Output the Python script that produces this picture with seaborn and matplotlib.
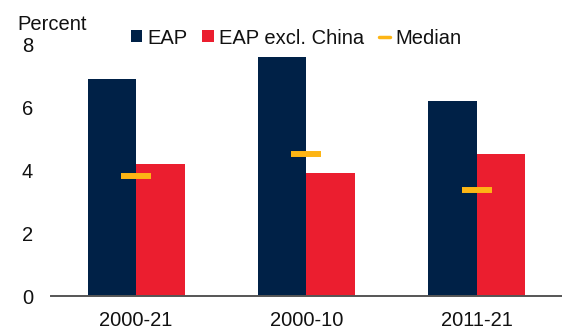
import numpy as np
import pandas as pd
import matplotlib
matplotlib.use("Agg")
import matplotlib.pyplot as plt
from matplotlib.patches import Patch
from matplotlib.lines import Line2D
import seaborn as sns

periods = ["2000-21", "2000-10", "2011-21"]
eap = [6.9, 7.6, 6.2]
eap_ex_china = [4.2, 3.9, 4.5]
median = [3.8, 4.5, 3.35]
series_names = ["EAP", "EAP excl. China", "Median"]

NAVY = "#002147"
RED = "#EB1E2F"
GOLD = "#FDB515"
FS = 14.5

sns.set_theme(style="white")
plt.rcParams["font.family"] = ["Liberation Sans", "DejaVu Sans"]
plt.rcParams["font.size"] = FS

df = pd.DataFrame({
    "period": periods * 2,
    "value": eap + eap_ex_china,
    "series": [series_names[0]] * 3 + [series_names[1]] * 3,
})

fig = plt.figure(figsize=(5.62, 3.31), dpi=100)
ax = fig.add_axes([0.0907, 0.1057, 0.9093, 0.7613])

sns.barplot(data=df, x="period", y="value", hue="series",
            palette=[NAVY, RED], saturation=1, width=0.57, gap=0,
            linewidth=0, legend=False, ax=ax)

xs = np.arange(len(periods))
ax.hlines(median, xs - 0.088, xs + 0.088, color=GOLD, lw=4.3, zorder=5)

ax.set_xlim(-0.5, 2.5)
ax.set_ylim(0, 8)
ax.set_yticks([0, 2, 4, 6, 8])
ax.set_xlabel("")
ax.set_ylabel("")
for s in ["top", "right", "left"]:
    ax.spines[s].set_visible(False)
ax.spines["bottom"].set_color("#555555")
ax.spines["bottom"].set_linewidth(1.4)
ax.tick_params(axis="x", length=0, pad=11, labelsize=FS, colors="#111111")
ax.tick_params(axis="y", length=0, pad=13, labelsize=FS, colors="#111111")
ax.grid(False)

fig.text(17 / 562, 1 - 24 / 331, "Percent", ha="left", va="center",
         fontsize=FS, color="#111111")

handles = [
    Patch(facecolor=NAVY, edgecolor="none"),
    Patch(facecolor=RED, edgecolor="none"),
    Line2D([0], [0], color=GOLD, lw=2.5),
]
fig.legend(handles, series_names, ncol=3, frameon=False,
           loc="center left", bbox_to_anchor=(113 / 562, 1 - 38 / 331),
           handlelength=0.55, handleheight=0.55, handletextpad=0.25,
           columnspacing=0.75, fontsize=FS, labelcolor="#111111")

fig.savefig("out.png", dpi=100)
